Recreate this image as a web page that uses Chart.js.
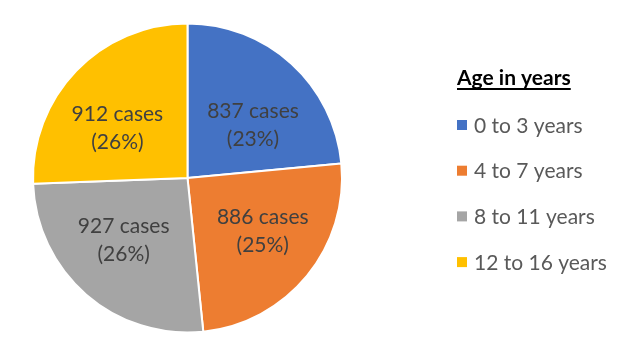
<!DOCTYPE html>
<html><head><meta charset="utf-8">
<script src="https://cdn.jsdelivr.net/npm/chart.js@4"></script>
<style>html,body{margin:0;padding:0;background:#fff}#wrap{width:626px;height:357px;position:relative}</style>
</head><body><div id="wrap"><canvas id="c" width="626" height="357"></canvas></div>
<script>
const categories = ['0 to 3 years', '4 to 7 years', '8 to 11 years', '12 to 16 years'];
const cases = [837, 886, 927, 912];
const colors = ['#4472C4', '#ED7D31', '#A5A5A5', '#FFC000'];
const legendTitle = 'Age in years';

const FONT = 'Lato, "Liberation Sans", sans-serif';
const total = cases.reduce((a, b) => a + b, 0);

const sliceLabels = {
  id: 'sliceLabels',
  afterDatasetsDraw(chart) {
    const ctx = chart.ctx;
    const meta = chart.getDatasetMeta(0);
    ctx.save();
    ctx.font = '21px ' + FONT;
    ctx.fillStyle = '#404040';
    ctx.textAlign = 'center';
    ctx.textBaseline = 'middle';
    meta.data.forEach((arc, i) => {
      const p = arc.getProps(['x', 'y', 'startAngle', 'endAngle', 'outerRadius'], true);
      const mid = (p.startAngle + p.endAngle) / 2;
      const cx = p.x + Math.cos(mid) * p.outerRadius * 0.63;
      const cy = p.y + Math.sin(mid) * p.outerRadius * 0.5 + 4;
      const v = chart.data.datasets[0].data[i];
      const pct = Math.round(v / total * 100);
      ctx.fillText(v + ' cases', cx, cy - 14);
      ctx.fillText('(' + pct + '%)', cx, cy + 14);
    });
    ctx.restore();
  }
};

const sideLegend = {
  id: 'sideLegend',
  afterDraw(chart) {
    const ctx = chart.ctx;
    const x0 = 457;
    ctx.save();
    ctx.font = 'bold 21px ' + FONT;
    ctx.fillStyle = '#000000';
    ctx.textAlign = 'left';
    ctx.textBaseline = 'alphabetic';
    ctx.fillText(legendTitle, x0, 85);
    const w = ctx.measureText(legendTitle).width;
    ctx.fillRect(x0, 88, w, 2);
    ctx.font = '21px ' + FONT;
    ctx.textBaseline = 'middle';
    const ds = chart.data.datasets[0];
    chart.data.labels.forEach((lab, i) => {
      const yc = 125 + i * 45.7;
      ctx.fillStyle = ds.backgroundColor[i];
      ctx.fillRect(x0, yc - 5, 10, 10);
      ctx.fillStyle = '#595959';
      ctx.fillText(lab, x0 + 17, yc + 1);
    });
    ctx.restore();
  }
};

new Chart(document.getElementById('c'), {
  type: 'pie',
  data: {
    labels: categories,
    datasets: [{
      data: cases,
      backgroundColor: colors,
      borderColor: '#ffffff',
      borderWidth: 2,
      hoverOffset: 0,
      offset: 0
    }]
  },
  options: {
    responsive: false,
    animation: false,
    events: [],
    layout: { padding: { left: 0, right: 251, top: 22.5, bottom: 23.5 } },
    plugins: { legend: { display: false }, tooltip: { enabled: false } }
  },
  plugins: [sliceLabels, sideLegend]
});
</script>
</body></html>
